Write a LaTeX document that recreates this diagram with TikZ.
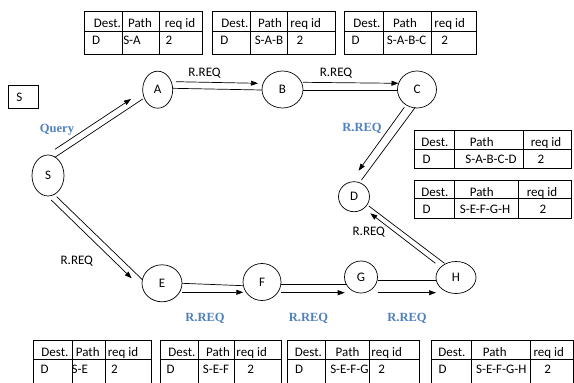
\documentclass[tikz,border=0pt]{standalone}
\usepackage{fontspec}
\setmainfont{Carlito}
\newfontfamily\blueserif{Liberation Serif}
\usetikzlibrary{shapes.geometric,arrows.meta}
\definecolor{lblblue}{RGB}{79,129,189}
\newcommand{\rtbl}[7]{\draw[tb] (#1,#5) rectangle (#4,#7) (#2,#5) -- (#2,#7) (#3,#5) -- (#3,#7) (#1,#6) -- (#4,#6);}
\begin{document}
\begin{tikzpicture}[x=1pt,y=-1pt,
  nd/.style={draw, ellipse, inner sep=0pt, line width=0.7pt, font=\fontsize{13}{15}\selectfont},
  txt/.style={anchor=base, yshift=-4.5pt, inner sep=0pt, font=\fontsize{13}{15}\selectfont},
  blu/.style={anchor=base, yshift=-4.5pt, inner sep=0pt, text=lblblue, font=\blueserif\bfseries\fontsize{12.5}{15}\selectfont},
  ln/.style={line width=0.7pt},
  arr/.style={line width=0.7pt, -{Triangle[length=7pt,width=5pt]}},
  tb/.style={line width=0.9pt}]
\useasboundingbox (0,0) rectangle (574,383);
\clip (0,0) rectangle (574,383);

% nodes
\node[nd, minimum width=32pt, minimum height=41pt] (S) at (48,175.5) {S};
\node[nd, minimum width=30pt, minimum height=37pt] (A) at (157.7,89.7) {A};
\node[nd, minimum width=41pt, minimum height=37pt] (B) at (282.5,89.5) {B};
\node[nd, minimum width=39pt, minimum height=37pt] (C) at (417,89.5) {C};
\node[nd, minimum width=31pt, minimum height=30pt] (D) at (354,196.7) {D};
\node[nd, minimum width=40pt, minimum height=37pt] (E) at (162,283.3) {E};
\node[nd, minimum width=38pt, minimum height=37pt] (F) at (262,282) {F};
\node[nd, minimum width=33pt, minimum height=32pt] (G) at (361,277) {G};
\node[nd, minimum width=40pt, minimum height=32pt] (H) at (456,277.5) {H};

% S box
\node[draw, line width=0.9pt, anchor=west, text width=14.4pt, inner xsep=8pt, align=left,
      minimum height=22.6pt, font=\fontsize{13}{15}\selectfont] (sbox) at (8,97) {S};

% connectors S-A
\draw[arr] ([shift={(7,-26.2)}]S.center) -- ([shift={(-26.7,9.3)}]A.center);
\draw[ln] ([shift={(7,-18.2)}]S.center) -- ([shift={(-15,9.3)}]A.center);
% S-E
\draw[arr] ([shift={(3.2,24.5)}]S.center) -- ([shift={(-30.3,-5)}]E.center);
\draw[ln] ([shift={(8.7,21.2)}]S.center) -- ([shift={(-19.3,-3.3)}]E.center);
% A-B
\draw[arr] ([shift={(18.3,-8)}]A.center) -- ([shift={(-24.5,-6.2)}]B.center);
\draw[ln] ([shift={(15,-1.4)}]A.center) -- ([shift={(-20.5,0.5)}]B.center);
% B-C
\draw[arr] ([shift={(20.5,-7.2)}]B.center) -- ([shift={(-18.5,-6.2)}]C.center);
\draw[ln] ([shift={(20.5,0.5)}]B.center) -- ([shift={(-19.5,0.5)}]C.center);
% C-D
\draw[arr] ([shift={(-12.7,17.8)}]C.center) -- ([shift={(4.6,-26)}]D.center);
\draw[ln] ([shift={(-1.7,17.8)}]C.center) -- ([shift={(7.5,-16.7)}]D.center);
% E-F
\draw[ln] ([shift={(20,0)}]E.center) -- ([shift={(-18.7,3.7)}]F.center);
\draw[arr] ([shift={(20,9)}]E.center) -- ([shift={(-18.7,10.3)}]F.center);
% F-G
\draw[ln] ([shift={(19,2)}]F.center) -- ([shift={(-15.2,7)}]G.center);
\draw[arr] ([shift={(19,10.7)}]F.center) -- ([shift={(-16.3,15.7)}]G.center);
% G-H
\draw[ln] ([shift={(16.6,3.7)}]G.center) -- ([shift={(-20,3.2)}]H.center);
\draw[arr] ([shift={(16.6,15.7)}]G.center) -- ([shift={(-20,15.2)}]H.center);
% H-D
\draw[arr] ([shift={(-20.6,-14.2)}]H.center) -- ([shift={(16.3,16.6)}]D.center);
\draw[ln] ([shift={(-11.5,-14.2)}]H.center) -- ([shift={(14.8,9.3)}]D.center);

% labels
\node[blu] (lq) at (57,128) {Query};
\node[txt] (l1) at (204.5,71.7) {R.REQ};
\node[txt] (l2) at (336,71.7) {R.REQ};
\node[txt] (l3) at (76.8,260) {R.REQ};
\node[txt] (l4) at (368.8,230.7) {R.REQ};
\node[blu] (l5) at (362,127.3) {R.REQ};
\node[blu] (l6) at (205,316.7) {R.REQ};
\node[blu] (l7) at (308.5,316.7) {R.REQ};
\node[blu] (l8) at (407,316.7) {R.REQ};

% top tables
\rtbl{84.5}{122}{159.5}{202}{11.7}{31.7}{54.3}
\rtbl{212.6}{250.6}{287.6}{335}{11.7}{31.7}{54.3}
\rtbl{344.7}{383.5}{431}{476}{11.7}{31.7}{54.3}
\node[txt] (a1) at (107.5,23) {Dest.};
\node[txt] (a2) at (140,23) {Path};
\node[txt] (a3) at (180,23) {req id};
\node[txt] (a4) at (96,40) {D};
\node[txt] (a5) at (132,40) {S-A};
\node[txt] (a6) at (169,40) {2};
\node[txt] (b1) at (235,23) {Dest.};
\node[txt] (b2) at (270,23) {Path};
\node[txt] (b3) at (305.7,23) {req id};
\node[txt] (b4) at (224.3,40) {D};
\node[txt] (b5) at (269,40) {S-A-B};
\node[txt] (b6) at (300,40) {2};
\node[txt] (c1) at (367,23) {Dest.};
\node[txt] (c2) at (405,23) {Path};
\node[txt] (c3) at (449.7,23) {req id};
\node[txt] (c4) at (355.6,40) {D};
\node[txt] (c5) at (406.6,40) {S-A-B-C};
\node[txt] (c6) at (444.6,40) {2};

% right tables
\rtbl{414.3}{454.3}{523.3}{571.7}{130.7}{149.3}{168.3}
\rtbl{414.3}{454.3}{518.3}{571.7}{180.7}{198.3}{218.3}
\node[txt] (d1) at (435,141.5) {Dest.};
\node[txt] (d2) at (481.7,141.5) {Path};
\node[txt] (d3) at (546,141.5) {req id};
\node[txt] (d4) at (426.7,159) {D};
\node[txt] (d5) at (491,159) {S-A-B-C-D};
\node[txt] (d6) at (541,159) {2};
\node[txt] (e1) at (435,191.7) {Dest.};
\node[txt] (e2) at (481.7,191.7) {Path};
\node[txt] (e3) at (542,191.7) {req id};
\node[txt] (e4) at (426.7,209) {D};
\node[txt] (e5) at (485,209) {S-E-F-G-H};
\node[txt] (e6) at (543,209) {2};

% bottom tables
\rtbl{33.7}{72.4}{105}{151}{340.7}{359.3}{395}
\rtbl{160}{198}{234}{281}{340.7}{359.3}{395}
\rtbl{287.6}{325.6}{369.6}{419.7}{340.7}{359.3}{395}
\rtbl{431}{471}{530.6}{573.3}{340.7}{359.3}{395}
\node[txt] (f1) at (55,351.7) {Dest.};
\node[txt] (f2) at (87.8,351.7) {Path};
\node[txt] (f3) at (123,351.7) {req id};
\node[txt] (f4) at (44.6,369) {D};
\node[txt] (f5) at (79.8,369) {S-E};
\node[txt] (f6) at (114.5,369) {2};
\node[txt] (g1) at (182,351.7) {Dest.};
\node[txt] (g2) at (218,351.7) {Path};
\node[txt] (g3) at (251.7,351.7) {req id};
\node[txt] (g4) at (170.5,369) {D};
\node[txt] (g5) at (216,369) {S-E-F};
\node[txt] (g6) at (250.6,369) {2};
\node[txt] (h1) at (308.5,351.7) {Dest.};
\node[txt] (h2) at (347.6,351.7) {Path};
\node[txt] (h3) at (386.7,351.7) {req id};
\node[txt] (h4) at (299,369) {D};
\node[txt] (h5) at (349.4,369) {S-E-F-G};
\node[txt] (h6) at (381.6,369) {2};
\node[txt] (k1) at (452,351.7) {Dest.};
\node[txt] (k2) at (494.7,351.7) {Path};
\node[txt] (k3) at (548.8,351.7) {req id};
\node[txt] (k4) at (442.7,369) {D};
\node[txt] (k5) at (501.3,369) {S-E-F-G-H};
\node[txt] (k6) at (547.7,369) {2};
\end{tikzpicture}
\end{document}
